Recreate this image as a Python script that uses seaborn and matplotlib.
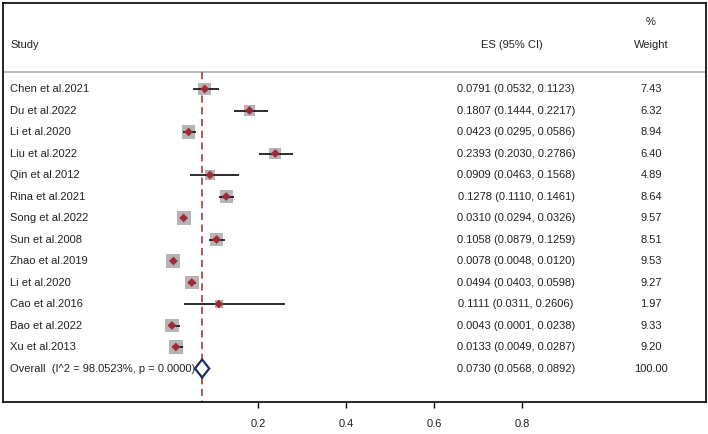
import matplotlib
matplotlib.use("Agg")
import matplotlib.pyplot as plt
import seaborn as sns
import pandas as pd
import numpy as np

studies = ["Chen et al.2021", "Du et al.2022", "Li et al.2020", "Liu et al.2022",
           "Qin et al.2012", "Rina et al.2021", "Song et al.2022", "Sun et al.2008",
           "Zhao et al.2019", "Li et al.2020", "Cao et al.2016", "Bao et al.2022",
           "Xu et al.2013"]
es = [0.0791, 0.1807, 0.0423, 0.2393, 0.0909, 0.1278, 0.0310, 0.1058,
      0.0078, 0.0494, 0.1111, 0.0043, 0.0133]
lower = [0.0532, 0.1444, 0.0295, 0.2030, 0.0463, 0.1110, 0.0294, 0.0879,
         0.0048, 0.0403, 0.0311, 0.0001, 0.0049]
upper = [0.1123, 0.2217, 0.0586, 0.2786, 0.1568, 0.1461, 0.0326, 0.1259,
         0.0120, 0.0598, 0.2606, 0.0238, 0.0287]
weights = [7.43, 6.32, 8.94, 6.40, 4.89, 8.64, 9.57, 8.51, 9.53, 9.27, 1.97, 9.33, 9.20]
overall_label = "Overall  (I^2 = 98.0523%, p = 0.0000)"
overall_es, overall_lo, overall_hi, overall_w = 0.0730, 0.0568, 0.0892, 100.00
xticks = [0.2, 0.4, 0.6, 0.8]

sns.set_style("white")
plt.rcParams['font.family'] = ['Liberation Sans', 'DejaVu Sans']

W, H = 708, 434
fig = plt.figure(figsize=(W / 100, H / 100), dpi=100)
left, right, top, bottom = 3, 706, 3, 402
ax = fig.add_axes([left / W, 1 - bottom / H, (right - left) / W, (bottom - top) / H])

x0px, scale = 170.0, 440.0
ax.set_xlim((left - x0px) / scale, (right - x0px) / scale)
row0, dy = 89.0, 21.5
ax.set_ylim((bottom - row0) / dy, (top - row0) / dy)

df = pd.DataFrame({"study": studies, "es": es, "lo": lower, "hi": upper,
                   "w": weights, "row": np.arange(len(studies))})

sns.scatterplot(data=df, x="es", y="row", size="w", sizes=(33, 102),
                size_norm=(min(weights), max(weights)), marker="s", color="#b5b5b5",
                edgecolor="none", legend=False, ax=ax, zorder=2)
ax.hlines(df["row"], df["lo"], df["hi"], color="#1a1a1a", lw=1.3, zorder=3)
sns.scatterplot(data=df, x="es", y="row", marker="D", s=20, color="#a3283a",
                edgecolor="none", legend=False, ax=ax, zorder=4)

orow = len(studies)
dh = 0.42
ax.fill([overall_lo, overall_es, overall_hi, overall_es, overall_lo],
        [orow, orow - dh, orow, orow + dh, orow], facecolor="white",
        edgecolor="#1f2a6b", lw=1.6, zorder=5)

sep_y = (72 - row0) / dy
ax.axhline(sep_y, color="#b0b0b0", lw=1.2, zorder=1)
ax.plot([overall_es, overall_es], [sep_y, (bottom - row0) / dy], ls=(0, (4, 2.5)),
        color="#b04a4a", lw=1.3, zorder=1)

fs = 8
tc = "#222222"
xl = (10 - x0px) / scale
xes = (516 - x0px) / scale
xw = (651 - x0px) / scale
for i, r in df.iterrows():
    ax.text(xl, r["row"], r["study"], ha="left", va="center", fontsize=fs, color=tc)
    ax.text(xes, r["row"], f"{r['es']:.4f} ({r['lo']:.4f}, {r['hi']:.4f})", ha="center",
            va="center", fontsize=fs, color=tc)
    ax.text(xw, r["row"], f"{r['w']:.2f}", ha="center", va="center", fontsize=fs, color=tc)
ax.text(xl, orow, overall_label, ha="left", va="center", fontsize=fs, color=tc)
ax.text(xes, orow, f"{overall_es:.4f} ({overall_lo:.4f}, {overall_hi:.4f})", ha="center",
        va="center", fontsize=fs, color=tc)
ax.text(xw, orow, f"{overall_w:.2f}", ha="center", va="center", fontsize=fs, color=tc)

hy = (45 - row0) / dy
ax.text(xl, hy, "Study", ha="left", va="center", fontsize=fs, color=tc)
ax.text((512 - x0px) / scale, hy, "ES (95% CI)", ha="center", va="center", fontsize=fs, color=tc)
ax.text(xw, hy, "Weight", ha="center", va="center", fontsize=fs, color=tc)
ax.text(xw, (22 - row0) / dy, "%", ha="center", va="center", fontsize=fs, color=tc)

ax.set_xlabel("")
ax.set_ylabel("")
ax.set_yticks([])
ax.set_xticks(xticks)
ax.set_xticklabels([f"{t:g}" for t in xticks], fontsize=fs, color=tc)
ax.tick_params(axis="x", direction="out", length=4, width=1, color="black", bottom=True, pad=8)
for s in ax.spines.values():
    s.set_visible(True)
    s.set_color("black")
    s.set_linewidth(1.2)

fig.savefig("out.png", dpi=100)
